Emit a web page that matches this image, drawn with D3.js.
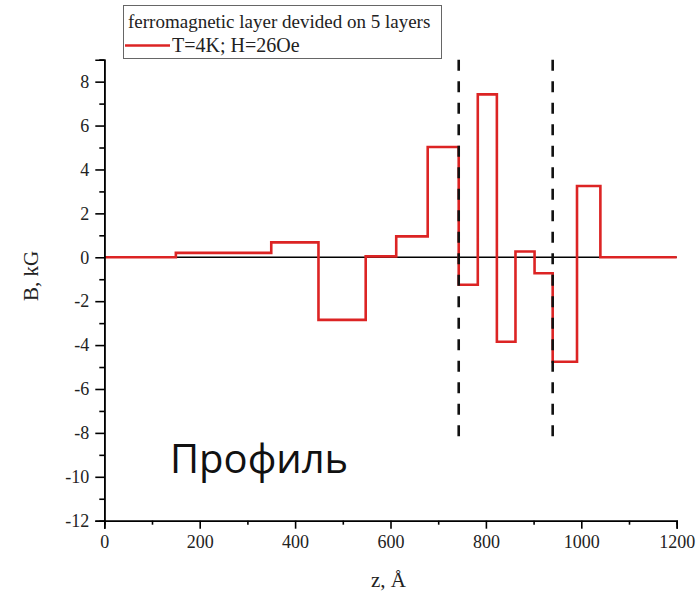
<!DOCTYPE html>
<html>
<head>
<meta charset="utf-8">
<script src="https://cdn.jsdelivr.net/npm/d3@7"></script>
<style>
  body { margin: 0; background: #fff; }
  svg text { font-family: "Liberation Serif", "Times New Roman", serif; }
</style>
</head>
<body>
<div id="canvas"></div>
<script>
// step profile: layer boundaries (z, Å) and field inside each layer (B, kG)
const zEdges = [0, 150, 350, 449, 548, 612, 678, 743, 783, 823, 862, 902, 940, 991, 1040, 1200];
const bValues = [0, 0.2, 0.68, -2.85, 0.04, 0.95, 5.02, -1.25, 7.42, -3.85, 0.26, -0.73, -4.76, 3.25, 0];
const interfaces = [743, 940]; // dashed markers
const xTicks = [0, 200, 400, 600, 800, 1000, 1200];
const xMinor = [100, 300, 500, 700, 900, 1100];
const yTicks = [-12, -10, -8, -6, -4, -2, 0, 2, 4, 6, 8];
const yMinor = [-11, -9, -7, -5, -3, -1, 1, 3, 5, 7, 9];
const legendTitle = "ferromagnetic layer devided on 5 layers";
const seriesName = "T=4K; H=26Oe";

const dims = { width: 700, height: 592 };
const plot = { left: 104.3, right: 676.7, top: 59.7, bottom: 520.7 };

const svg = d3
  .select("#canvas")
  .append("svg")
  .attr("width", dims.width)
  .attr("height", dims.height);

const x = d3.scaleLinear().domain([0, 1200]).range([plot.left, plot.right]);
const y = d3.scaleLinear().domain([-12, 9]).range([plot.bottom, plot.top]);

// zero line
svg.append("line")
  .attr("x1", x(0)).attr("x2", x(1200))
  .attr("y1", y(0)).attr("y2", y(0))
  .attr("stroke", "#000")
  .attr("stroke-width", 1.3);

// red step curve
const pts = bValues.map((b, i) => [zEdges[i], b]);
pts.push([zEdges[zEdges.length - 1], bValues[bValues.length - 1]]);
const line = d3.line()
  .x(d => x(d[0]))
  .y(d => y(d[1]))
  .curve(d3.curveStepAfter);

svg.append("path")
  .attr("d", line(pts))
  .attr("fill", "none")
  .attr("stroke", "#dc2424")
  .attr("stroke-width", 2.6)
  .attr("stroke-linejoin", "miter");

// dashed interface markers
svg.selectAll(".iface")
  .data(interfaces)
  .enter()
  .append("line")
  .attr("class", "iface")
  .attr("x1", d => x(d)).attr("x2", d => x(d))
  .attr("y1", y(9)).attr("y2", y(-8.6))
  .attr("stroke", "#111")
  .attr("stroke-width", 2.6)
  .attr("stroke-dasharray", "11,10.5");

// axes (minor ticks in their own groups so the major call doesn't rebind them)
const fmt = d => (d < 0 ? "-" + Math.abs(d) : String(d));

svg.append("g")
  .attr("transform", `translate(0,${plot.bottom})`)
  .call(d3.axisBottom(x).tickValues(xMinor).tickSize(4).tickFormat(""));
svg.append("g")
  .attr("transform", `translate(0,${plot.bottom})`)
  .call(d3.axisBottom(x).tickValues(xTicks).tickSize(8).tickPadding(7).tickFormat(fmt));

svg.append("g")
  .attr("transform", `translate(${plot.left},0)`)
  .call(d3.axisLeft(y).tickValues(yMinor).tickSize(5).tickFormat(""));
svg.append("g")
  .attr("transform", `translate(${plot.left},0)`)
  .call(d3.axisLeft(y).tickValues(yTicks).tickSize(9).tickPadding(6).tickFormat(fmt));

svg.selectAll(".domain").attr("stroke", "#000").attr("stroke-width", 1.6);
svg.selectAll(".tick line").attr("stroke", "#000").attr("stroke-width", 1.6);
svg.selectAll(".tick text")
  .attr("fill", "#222")
  .attr("font-family", "Liberation Serif")
  .attr("font-size", 18)
  .style("font-family", "'Liberation Serif', serif")
  .style("font-size", "18px");

// axis titles
svg.append("text")
  .attr("x", x(600) - 2)
  .attr("y", 587)
  .attr("text-anchor", "middle")
  .style("font-size", "21px")
  .attr("fill", "#222")
  .text("z, Å");

svg.append("text")
  .attr("transform", `translate(38,${276}) rotate(-90)`)
  .attr("text-anchor", "middle")
  .style("font-size", "21px")
  .attr("fill", "#222")
  .text("B, kG");

// legend
const legendGroup = svg.append("g");
legendGroup.append("rect")
  .attr("x", 123.5).attr("y", 5.5)
  .attr("width", 318).attr("height", 53)
  .attr("fill", "#fff")
  .attr("stroke", "#666")
  .attr("stroke-width", 1);
legendGroup.append("text")
  .attr("x", 128).attr("y", 28)
  .style("font-size", "19px")
  .attr("fill", "#222")
  .text(legendTitle);
legendGroup.append("line")
  .attr("x1", 125).attr("x2", 170)
  .attr("y1", 45.5).attr("y2", 45.5)
  .attr("stroke", "#dc2424")
  .attr("stroke-width", 2.4);
legendGroup.append("text")
  .attr("x", 172).attr("y", 52)
  .style("font-size", "20px")
  .attr("fill", "#222")
  .text(seriesName);

// overlay caption
svg.append("text")
  .attr("x", 170)
  .attr("y", 473)
  .style("font-family", "'Open Sans', 'Noto Sans', sans-serif")
  .style("font-size", "40px")
  .attr("fill", "#111")
  .text("Профиль");
</script>
</body>
</html>
